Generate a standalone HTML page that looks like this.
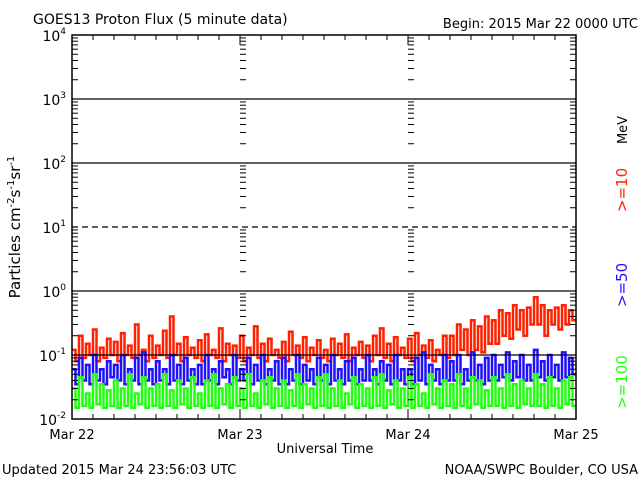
<!DOCTYPE html>
<html><head><meta charset="utf-8"><style>
body{margin:0;background:#fff;}
svg{display:block;font-family:"DejaVu Sans","Liberation Sans",sans-serif;}
</style></head><body>
<svg id="chart" width="640" height="480">
<text x="33" y="24" font-size="14">GOES13 Proton Flux (5 minute data)</text>
<text x="638" y="28" font-size="13" text-anchor="end">Begin: 2015 Mar 22 0000 UTC</text>
<text x="2" y="474" font-size="13">Updated 2015 Mar 24 23:56:03 UTC</text>
<text x="638" y="474" font-size="13" text-anchor="end">NOAA/SWPC Boulder, CO USA</text>
<text x="325" y="453" font-size="13" text-anchor="middle">Universal Time</text>
<text transform="translate(20,227) rotate(-90)" font-size="15" text-anchor="middle">Particles cm<tspan dy="-6" font-size="10">-2</tspan><tspan dy="6">s</tspan><tspan dy="-6" font-size="10">-1</tspan><tspan dy="6">sr</tspan><tspan dy="-6" font-size="10">-1</tspan></text>
<text transform="translate(627,130) rotate(-90)" font-size="13" text-anchor="middle">MeV</text>
<text transform="translate(627,190) rotate(-90)" font-size="15" fill="#ff2000" text-anchor="middle">&gt;=10</text>
<text transform="translate(627,285) rotate(-90)" font-size="15" fill="#2010ff" text-anchor="middle">&gt;=50</text>
<text transform="translate(627,382) rotate(-90)" font-size="15" fill="#20ff10" text-anchor="middle">&gt;=100</text>
<g id="series"></g>
<g id="axes"></g>
</svg>
<script>
const xLabels=["Mar 22","Mar 23","Mar 24","Mar 25"];
const yExp=[-2,-1,0,1,2,3,4];
const red=[.12,.08,.2,.09,.15,.1,.25,.08,.13,.09,.18,.1,
.16,.08,.22,.1,.14,.09,.3,.1,.12,.08,.2,.09,
.14,.1,.24,.09,.4,.1,.15,.08,.19,.1,.13,.09,
.17,.08,.21,.1,.12,.09,.26,.08,.15,.1,.14,.09,
.2,.08,.13,.1,.28,.09,.15,.08,.18,.1,.12,.09,
.16,.08,.23,.1,.14,.09,.19,.08,.13,.1,.17,.09,
.12,.08,.18,.1,.15,.09,.21,.08,.13,.1,.16,.09,
.14,.08,.2,.1,.26,.09,.15,.08,.19,.1,.13,.09,
.18,.08,.22,.1,.14,.09,.17,.08,.12,.1,.2,.09,
.2,.1,.3,.12,.25,.1,.35,.12,.28,.11,.4,.15,
.35,.15,.5,.2,.45,.18,.6,.25,.5,.2,.55,.3,
.8,.3,.6,.2,.5,.3,.55,.25,.6,.3,.5,.35];
const blue=[.06,.035,.09,.04,.07,.035,.1,.04,.06,.035,.08,.045,
.07,.04,.1,.035,.06,.04,.09,.035,.11,.04,.06,.035,
.08,.04,.06,.035,.1,.04,.07,.035,.09,.04,.06,.035,
.07,.035,.1,.04,.06,.035,.08,.045,.06,.035,.1,.04,
.06,.04,.09,.035,.07,.04,.1,.035,.06,.04,.08,.035,
.09,.035,.06,.04,.1,.035,.07,.04,.06,.035,.09,.04,
.07,.035,.1,.04,.06,.035,.08,.04,.09,.035,.06,.04,
.1,.04,.06,.035,.08,.04,.07,.035,.1,.04,.06,.035,
.06,.035,.09,.04,.11,.035,.07,.04,.06,.035,.1,.04,
.08,.04,.1,.035,.06,.04,.11,.04,.07,.035,.09,.04,
.1,.04,.07,.045,.11,.04,.08,.045,.1,.04,.07,.04,
.12,.045,.08,.04,.1,.045,.07,.04,.11,.045,.09,.05];
const green=[.03,.015,.045,.016,.025,.015,.05,.017,.035,.015,.028,.016,
.04,.015,.03,.016,.05,.015,.025,.017,.045,.015,.03,.016,
.035,.015,.05,.016,.028,.015,.04,.017,.03,.015,.045,.016,
.025,.015,.04,.016,.05,.015,.03,.017,.035,.015,.045,.016,
.03,.015,.05,.016,.025,.015,.04,.017,.045,.015,.03,.016,
.04,.015,.028,.016,.05,.015,.035,.017,.03,.015,.045,.016,
.05,.015,.03,.016,.04,.015,.025,.017,.045,.015,.035,.016,
.03,.015,.045,.016,.05,.015,.028,.017,.04,.015,.03,.016,
.045,.015,.035,.016,.025,.015,.05,.017,.03,.015,.04,.016,
.035,.015,.05,.016,.03,.015,.045,.017,.04,.015,.028,.016,
.045,.016,.03,.015,.05,.016,.035,.015,.04,.017,.03,.016,
.05,.016,.035,.015,.045,.016,.03,.015,.04,.017,.045,.016];
const L=72,R=576,T=35,B=419;
const NS="http://www.w3.org/2000/svg";
function xs(i,n){return L+(R-L)*i/n;}
function ys(v){return B-(Math.log10(v)+2)*(B-T)/6;}
function mk(tag,attrs,parent){const e=document.createElementNS(NS,tag);for(const k in attrs)e.setAttribute(k,attrs[k]);parent.appendChild(e);return e;}
const sg=document.getElementById('series'),ag=document.getElementById('axes');
[[red,'#ff2000','series-10mev'],[blue,'#2010ff','series-50mev'],[green,'#20ff10','series-100mev']].forEach(s=>{
  const n=s[0].length;let d='';
  s[0].forEach((v,i)=>{const y=ys(v).toFixed(1);d+=(i?'L':'M')+xs(i,n).toFixed(1)+','+y+'L'+xs(i+1,n).toFixed(1)+','+y;});
  const p=mk('path',{d:d,fill:'none',stroke:s[1],'stroke-width':2.5},sg);
  
  
});
yExp.forEach(e=>{
  const y=ys(Math.pow(10,e));
  if(e>-2&&e<4){const g=mk('line',{x1:L,x2:R,y1:y,y2:y,stroke:'#000','stroke-width':1.3,'stroke-dasharray':e===1?'6,4':'none'},ag);
  
  }
  const t=mk('text',{x:L-6,y:y+6,'font-size':14,'text-anchor':'end'},ag);
  
  
  t.textContent='10';
  const s=mk('tspan',{dy:-7,'font-size':9},t);s.textContent=String(e);
  if(e<4){for(let m=2;m<10;m++){const ym=ys(m*Math.pow(10,e));
    [[L,6],[R-6,6],[240,6],[408,6]].forEach(a=>{mk('line',{x1:a[0],x2:a[0]+a[1],y1:ym,y2:ym,stroke:'#000','stroke-width':1},ag);});}}
});
for(let h=0;h<=72;h+=3){const x=L+(R-L)*h/72;const len=h%24===0?10:5;
  mk('line',{x1:x,x2:x,y1:B,y2:B-len,stroke:'#000'},ag);mk('line',{x1:x,x2:x,y1:T,y2:T+len,stroke:'#000'},ag);}
xLabels.forEach((s,i)=>{const t=mk('text',{x:L+(R-L)*i/3,y:439,'font-size':13,'text-anchor':'middle'},ag);
  
  
  t.textContent=s;});
const fr=mk('rect',{x:L,y:T,width:R-L,height:B-T,fill:'none',stroke:'#000','stroke-width':1.5},ag);


</script>
</body></html>
